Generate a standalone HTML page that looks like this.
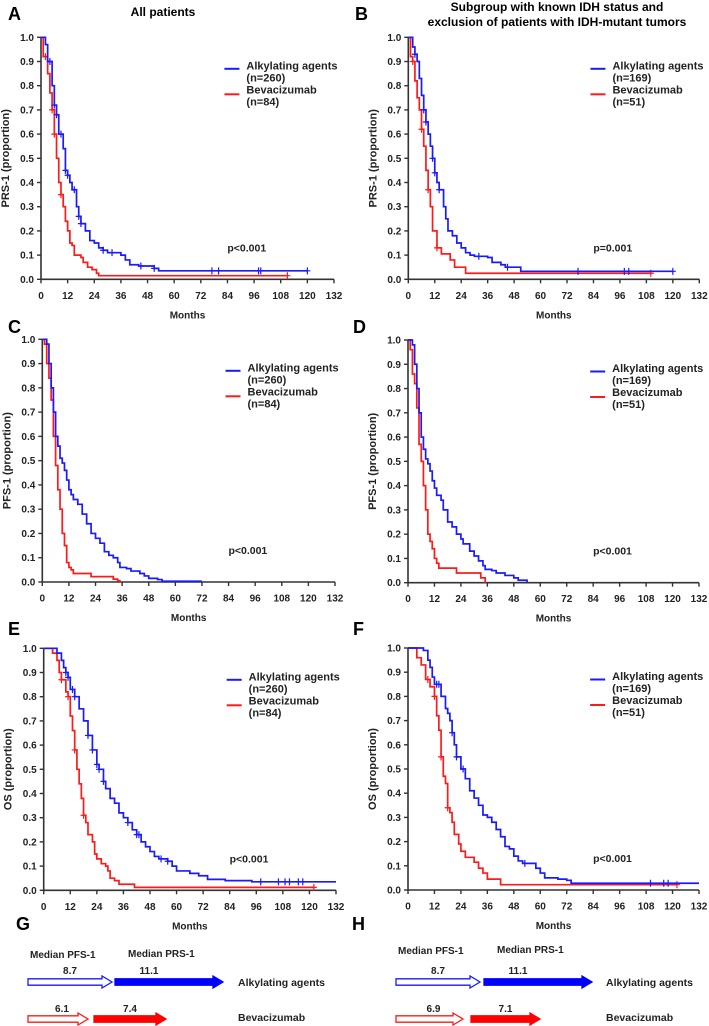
<!DOCTYPE html>
<html><head><meta charset="utf-8">
<style>
html,body{margin:0;padding:0;background:#fff;}
svg{display:block;font-family:"Liberation Sans",Arial,sans-serif;font-weight:bold;}
</style></head>
<body>
<svg id="fig" width="709" height="1026" viewBox="0 0 709 1026" xmlns="http://www.w3.org/2000/svg">
<text x="8" y="20" font-size="18">A</text>
<text x="163" y="16" font-size="12" text-anchor="middle">All patients</text>
<text x="355" y="20" font-size="18">B</text>
<text x="557" y="11" font-size="12" text-anchor="middle">Subgroup with known IDH status and</text>
<text x="557" y="26" font-size="12" text-anchor="middle">exclusion of patients with IDH-mutant tumors</text>
<text x="8" y="333" font-size="18">C</text>
<text x="353" y="333" font-size="18">D</text>
<text x="8" y="635" font-size="18">E</text>
<text x="353" y="635" font-size="18">F</text>
<text x="16" y="930" font-size="18">G</text>
<text x="352" y="930" font-size="18">H</text>
<g id="summary"></g>
</svg>
<script>
// ---- data ----
const panelKeys = ["A","B","C","D","E","F"];
const yTitles = ["PRS-1 (proportion)","PRS-1 (proportion)","PFS-1 (proportion)","PFS-1 (proportion)","OS (proportion)","OS (proportion)"];
const pValues = ["p<0.001","p=0.001","p<0.001","p<0.001","p<0.001","p<0.001"];
const alkLegend = ["(n=260)","(n=169)","(n=260)","(n=169)","(n=260)","(n=169)"];
const bevLegend = ["(n=84)","(n=51)","(n=84)","(n=51)","(n=84)","(n=51)"];
const xTicks = [0,12,24,36,48,60,72,84,96,108,120,132];
const yTicks = [0,0.1,0.2,0.3,0.4,0.5,0.6,0.7,0.8,0.9,1.0];

const alkA = [[0,1],[2,0.97],[3,0.9],[5,0.8],[6,0.72],[7,0.68],[8,0.6],[10,0.54],[11,0.45],[12,0.43],[13,0.4],[14,0.37],[16,0.3],[17,0.26],[18,0.23],[20,0.2],[22,0.16],[24,0.15],[26,0.13],[28,0.12],[30,0.11],[34,0.11],[36,0.1],[38,0.08],[40,0.06],[44,0.055],[51,0.045],[53,0.035],[120,0.035]];
const bevA = [[0,1],[1,0.92],[3,0.85],[4,0.77],[5,0.7],[6,0.6],[7,0.5],[8,0.4],[9,0.35],[10,0.3],[11,0.24],[12,0.2],[13,0.15],[14,0.14],[15,0.1],[18,0.09],[19,0.07],[21,0.05],[23,0.04],[25,0.025],[26,0.015],[111,0.015]];
const alkCensA = [4,6,7,9,11,12,15,17,18,28,32,45,51,77,80,98,99,120];
const bevCensA = [2,5,6,9,111];

const alkB = [[0,1],[2,0.96],[3,0.93],[4,0.9],[5,0.83],[6,0.76],[7,0.7],[8,0.65],[9,0.6],[10,0.55],[11,0.5],[12,0.44],[13,0.4],[14,0.37],[16,0.3],[17,0.25],[18,0.2],[20,0.18],[22,0.15],[24,0.13],[26,0.11],[28,0.1],[30,0.095],[36,0.09],[38,0.07],[42,0.06],[44,0.05],[50,0.05],[51,0.033],[120,0.033]];
const bevB = [[0,1],[1,0.92],[2,0.9],[3,0.82],[4,0.75],[5,0.7],[6,0.62],[7,0.55],[8,0.45],[9,0.37],[10,0.3],[11,0.2],[13,0.13],[15,0.105],[19,0.08],[21,0.05],[26,0.025],[110,0.025]];
const alkCensB = [3,7,8,11,12,14,32,45,77,98,100,120];
const bevCensB = [2,6,9,13,110];

const alkC = [[0,1],[2,0.98],[3,0.9],[4,0.8],[5,0.7],[6,0.6],[7,0.56],[8,0.51],[9,0.49],[10,0.46],[11,0.42],[12,0.38],[13,0.36],[14,0.34],[16,0.32],[18,0.28],[20,0.24],[22,0.2],[24,0.18],[26,0.16],[28,0.125],[30,0.11],[32,0.1],[34,0.08],[35,0.06],[38,0.055],[40,0.045],[44,0.035],[46,0.025],[48,0.015],[52,0.01],[54,0.003],[72,0.003]];
const bevC = [[0,1],[1,0.98],[2,0.9],[3,0.84],[4,0.75],[5,0.6],[6,0.48],[7,0.38],[8,0.3],[9,0.2],[10,0.15],[11,0.08],[12,0.06],[13,0.05],[14,0.035],[22,0.022],[32,0.012],[34,0.005],[35,0]];
const alkCensC = [];
const bevCensC = [];

const alkD = [[0,1],[2,0.98],[3,0.9],[4,0.8],[5,0.7],[6,0.6],[7,0.55],[8,0.51],[9,0.49],[10,0.46],[11,0.42],[12,0.39],[13,0.36],[15,0.34],[16,0.3],[18,0.25],[20,0.23],[22,0.2],[24,0.18],[25,0.16],[28,0.13],[30,0.11],[32,0.09],[34,0.07],[35,0.055],[38,0.05],[40,0.04],[44,0.03],[48,0.02],[50,0.01],[54,0.003]];
const bevD = [[0,1],[1,0.96],[2,0.86],[3,0.82],[4,0.72],[5,0.57],[6,0.5],[7,0.4],[8,0.3],[9,0.2],[10,0.17],[11,0.14],[12,0.1],[13,0.08],[14,0.06],[22,0.04],[33,0.02],[35,0]];
const alkCensD = [];
const bevCensD = [];

const alkE = [[0,1],[6,0.98],[8,0.95],[9,0.92],[10,0.9],[11,0.88],[12,0.83],[14,0.8],[16,0.75],[18,0.7],[20,0.64],[22,0.58],[24,0.52],[25,0.5],[27,0.45],[28,0.42],[30,0.38],[32,0.36],[34,0.32],[36,0.3],[38,0.28],[40,0.25],[42,0.23],[44,0.2],[46,0.18],[48,0.16],[50,0.14],[52,0.13],[56,0.12],[58,0.1],[60,0.08],[66,0.07],[70,0.06],[74,0.045],[82,0.04],[94,0.035],[132,0.035]];
const bevE = [[0,1],[4,0.98],[6,0.95],[7,0.9],[8,0.87],[10,0.82],[11,0.8],[12,0.72],[13,0.66],[14,0.58],[15,0.5],[16,0.44],[17,0.38],[18,0.31],[19,0.28],[20,0.23],[22,0.2],[23,0.15],[24,0.13],[26,0.11],[28,0.1],[29,0.08],[30,0.05],[32,0.04],[34,0.025],[41,0.012],[122,0.012]];
const alkCensE = [10,11,13,14,20,22,24,25,27,38,42,43,53,56,98,106,109,111,115,117];
const bevCensE = [8,11,14,18,122];

const alkF = [[0,1],[7,0.99],[9,0.95],[10,0.92],[11,0.88],[12,0.85],[15,0.8],[17,0.75],[18,0.73],[19,0.7],[20,0.65],[21,0.6],[22,0.55],[24,0.5],[26,0.46],[28,0.41],[30,0.38],[32,0.35],[34,0.31],[36,0.3],[38,0.28],[40,0.25],[42,0.22],[44,0.18],[46,0.17],[48,0.14],[50,0.12],[52,0.11],[58,0.09],[60,0.07],[62,0.05],[68,0.045],[72,0.04],[74,0.028],[132,0.028]];
const bevF = [[0,1],[4,0.96],[6,0.93],[8,0.87],[10,0.84],[12,0.8],[13,0.72],[14,0.66],[15,0.55],[16,0.47],[17,0.44],[18,0.34],[19,0.32],[20,0.28],[21,0.23],[23,0.19],[24,0.16],[26,0.135],[30,0.115],[32,0.09],[34,0.07],[36,0.045],[42,0.022],[122,0.022]];
const alkCensF = [13,14,20,22,25,53,110,116,118];
const bevCensF = [9,12,15,18,122];

const alkSeries = [alkA,alkB,alkC,alkD,alkE,alkF];
const bevSeries = [bevA,bevB,bevC,bevD,bevE,bevF];
const alkCens = [alkCensA,alkCensB,alkCensC,alkCensD,alkCensE,alkCensF];
const bevCens = [bevCensA,bevCensB,bevCensC,bevCensD,bevCensE,bevCensF];

// summary (G/H)
const pfsAlk = ["8.7","8.7"];
const prsAlk = ["11.1","11.1"];
const pfsBev = ["6.1","6.9"];
const prsBev = ["7.4","7.1"];

// ---- layout ----
const frames = [
  {x0:41,x1:334,yt:37.3,yb:279.3},{x0:408.3,x1:699.3,yt:37.3,yb:279.3},
  {x0:42.3,x1:335,yt:339.3,yb:582},{x0:408,x1:699,yt:340,yb:582.7},
  {x0:43.7,x1:336,yt:648.3,yb:890.3},{x0:408,x1:699,yt:648,yb:890}
];
const NS="http://www.w3.org/2000/svg";
const svg=document.getElementById('fig');
function mk(tag,attrs,parent){const e=document.createElementNS(NS,tag);for(const k in attrs)e.setAttribute(k,attrs[k]);(parent||svg).appendChild(e);return e;}
function stepVal(s,t){let v=s[0][1];for(const p of s){if(p[0]<=t)v=p[1];}return v;}

frames.forEach((f,i)=>{
  const xs=m=>f.x0+(m/132)*(f.x1-f.x0);
  const ys=v=>f.yb-v*(f.yb-f.yt);
  const g=mk('g',{});
  
  
  const ax=mk('path',{d:`M${f.x0},${f.yt} V${f.yb} H${f.x1}`,stroke:'#333',fill:'none','stroke-width':1.6},g);
  
  
  xTicks.forEach(t=>{
    mk('line',{x1:xs(t),x2:xs(t),y1:f.yb,y2:f.yb+4,stroke:'#333','stroke-width':1.4},g);
    const tx=mk('text',{x:xs(t),y:f.yb+19.5,'font-size':10,'text-anchor':'middle',fill:'#222'},g);
    tx.textContent=t;
    
    
  });
  yTicks.forEach(t=>{
    mk('line',{x1:f.x0-4,x2:f.x0,y1:ys(t),y2:ys(t),stroke:'#333','stroke-width':1.4},g);
    const ty=mk('text',{x:f.x0-7,y:ys(t)+3.5,'font-size':10,'text-anchor':'end',fill:'#222'},g);
    ty.textContent=t.toFixed(1);
    
    
  });
  const xt=mk('text',{x:(f.x0+f.x1)/2,y:f.yb+39,'font-size':10,'text-anchor':'middle',fill:'#222'},g);
  xt.textContent='Months';
  
  
  const cy=(f.yt+f.yb)/2, cx=f.x0-32;
  const yt=mk('text',{x:cx,y:cy,'font-size':11,'text-anchor':'middle',transform:`rotate(-90 ${cx} ${cy})`,fill:'#222'},g);
  yt.textContent=yTitles[i];
  
  
  [[bevSeries[i],'#ff1a1a',bevCens[i],'bevacizumab-curve'],[alkSeries[i],'#1a1aff',alkCens[i],'alkylating-curve']].forEach(([s,c,cens,nm])=>{
    let d=`M${xs(s[0][0])},${ys(s[0][1])}`;
    for(let k=1;k<s.length;k++){d+=` H${xs(s[k][0])} V${ys(s[k][1])}`;}
    const p=mk('path',{d:d,stroke:c,fill:'none','stroke-width':1.7},g);
    
    
    cens.forEach(t=>{
      const X=xs(t),Y=ys(stepVal(s,t));
      const cm=mk('path',{d:`M${X-3},${Y} H${X+3} M${X},${Y-3.5} V${Y+3.5}`,stroke:c,'stroke-width':1.2},g);
      
      
    });
  });
  const lx=f.x0+0.626*(f.x1-f.x0), ly=f.yt;
  const l1=mk('line',{x1:lx,x2:lx+15,y1:ly+31.5,y2:ly+31.5,stroke:'#1a1aff','stroke-width':2},g);
  
  
  const l2=mk('line',{x1:lx,x2:lx+15,y1:ly+57,y2:ly+57,stroke:'#ff1a1a','stroke-width':2},g);
  
  
  [['Alkylating agents',32],[alkLegend[i],44],['Bevacizumab',56],[bevLegend[i],68]].forEach(([t,dy])=>{
    const e=mk('text',{x:lx+22,y:ly+dy,'font-size':11,fill:'#222'},g);
    e.textContent=t;
    
    
  });
  const pv=mk('text',{x:f.x0+0.636*(f.x1-f.x0),y:f.yb-28,'font-size':10.5,fill:'#222'},g);
  pv.textContent=pValues[i];
  
  
});

// ---- G/H summary arrows ----
const sumG=document.getElementById('summary');
function arrow(x1,x2,y,color,filled,nm){
  const hl=10,bh=3.2,hh=6;
  const pts=`${x1},${y-bh} ${x2-hl},${y-bh} ${x2-hl},${y-hh} ${x2},${y} ${x2-hl},${y+hh} ${x2-hl},${y+bh} ${x1},${y+bh}`;
  const p=mk('polygon',{points:pts,fill:filled?color:'#fff',stroke:color,'stroke-width':1.3},sumG);
  
  
}
function txt(x,y,t,anchor,nm,size){
  const e=mk('text',{x:x,y:y,'font-size':size||10,'text-anchor':anchor||'start',fill:'#222'},sumG);
  e.textContent=t;
  
  
}
const cols=[{hy:958,b:{hs:28,he:112,fs:115,fe:223,bhe:88,bfs:94,bfe:166}},{hy:954,b:{hs:396,he:480,fs:484,fe:592,bhe:463,bfs:471,bfe:540}}];
cols.forEach((c,i)=>{
  const b=c.b;
  txt(b.hs+2,c.hy,'Median PFS-1','start','median-pfs-header');
  txt(b.fs+13,c.hy-1,'Median PRS-1','start','median-prs-header');
  txt((b.hs+b.he)/2,974,pfsAlk[i],'middle','pfs-alkylating-value');
  txt((b.fs+b.fe)/2-20,974,prsAlk[i],'middle','prs-alkylating-value');
  arrow(b.hs,b.he,982,'#1a1aff',false,'pfs-arrow-alkylating');
  arrow(b.fs,b.fe,982,'#0000ff',true,'prs-arrow-alkylating');
  txt(i?606:238,986,'Alkylating agents','start','row-label-alkylating',10.5);
  txt((b.hs+b.bhe)/2+4,1012,pfsBev[i],'middle','pfs-bevacizumab-value');
  txt((b.bfs+b.bfe)/2,1012,prsBev[i],'middle','prs-bevacizumab-value');
  arrow(b.hs,b.bhe,1019,'#ff1a1a',false,'pfs-arrow-bevacizumab');
  arrow(b.bfs,b.bfe,1019,'#ff0000',true,'prs-arrow-bevacizumab');
  txt(i?606:238,1021,'Bevacizumab','start','row-label-bevacizumab',10.5);
});
</script>
</body></html>
